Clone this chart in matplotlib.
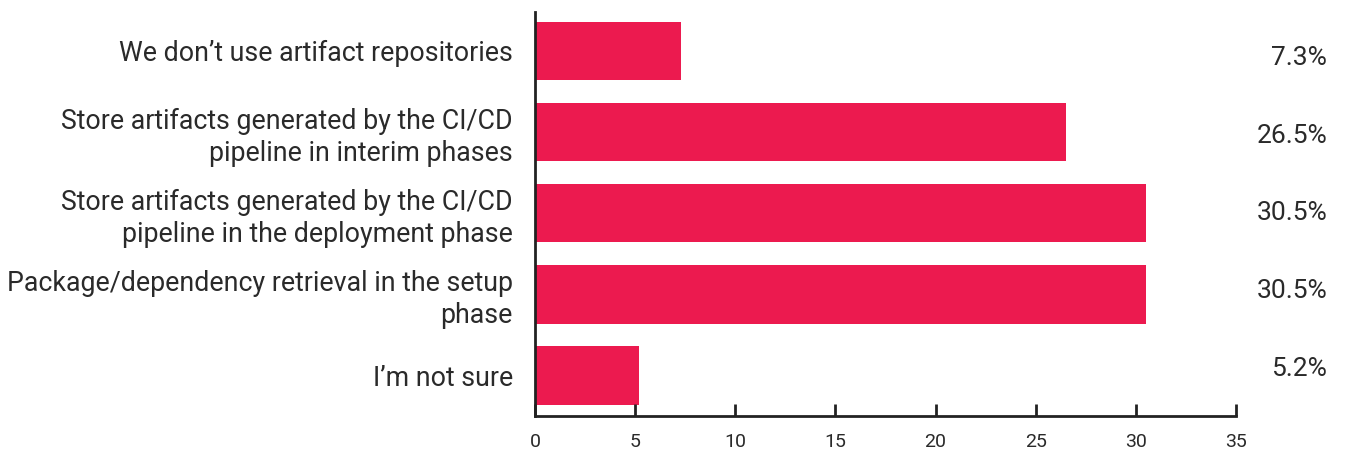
import matplotlib.pyplot as plt

categories = [
    "We don’t use artifact repositories",
    "Store artifacts generated by the CI/CD\npipeline in interim phases",
    "Store artifacts generated by the CI/CD\npipeline in the deployment phase",
    "Package/dependency retrieval in the setup\nphase",
    "I’m not sure",
]
values = [7.3, 26.5, 30.5, 30.5, 5.2]
labels = ["7.3%", "26.5%", "30.5%", "30.5%", "5.2%"]

plt.rcParams['font.family'] = ['Roboto', 'DejaVu Sans']
txt = '#2a2a2a'

fig = plt.figure(figsize=(13.48, 4.55), dpi=100)
ax = fig.add_axes([535 / 1348, 1 - 416 / 455, 701 / 1348, 404 / 455])

y = range(len(values))
ax.barh(y, values, height=0.72, color='#EC1A4F')
ax.set_xlim(0, 35)
ax.set_ylim(4.5, -0.48)

ax.set_yticks(list(y))
ax.set_yticklabels(categories, fontsize=19.3, color=txt, linespacing=1.22)
ax.tick_params(axis='y', length=0, pad=16)
ax.set_xticks(range(0, 40, 5))
ax.tick_params(axis='x', direction='in', length=9, width=2, labelsize=14,
               labelcolor=txt, pad=12, color='#222222')

for s in ['top', 'right']:
    ax.spines[s].set_visible(False)
for s in ['left', 'bottom']:
    ax.spines[s].set_linewidth(2)
    ax.spines[s].set_color('#222222')

# percent labels on the right, evenly spaced
for i, lab in enumerate(labels):
    py = 58 + i * 77.75
    fig.text(1327 / 1348, 1 - py / 455, lab, ha='right', va='center',
             fontsize=19, color=txt)

fig.savefig('out.png', dpi=100)
